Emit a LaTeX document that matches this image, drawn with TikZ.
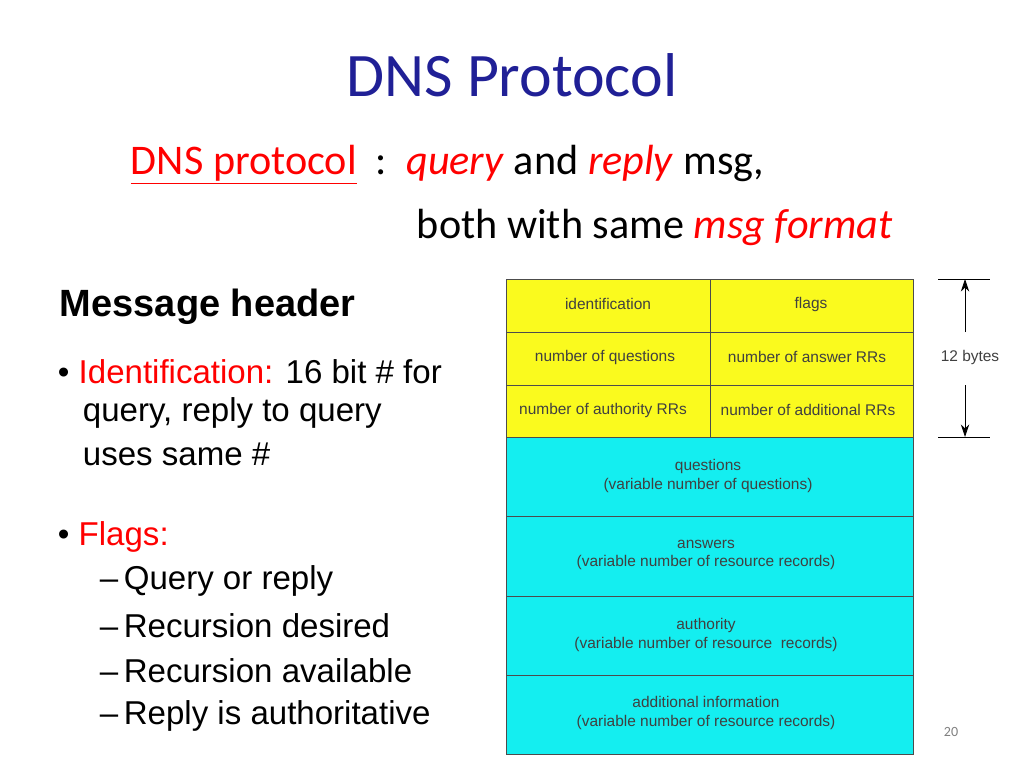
\documentclass[tikz,border=0pt]{standalone}
\usepackage{fontspec}
\setmainfont{Carlito}
\newfontfamily\arialfont{Liberation Sans}
\usetikzlibrary{arrows.meta}
\definecolor{titleblue}{RGB}{32,32,150}
\definecolor{hdryellow}{RGB}{250,250,30}
\definecolor{bodycyan}{RGB}{20,238,240}
\begin{document}
\begin{tikzpicture}[x=0.025cm,y=-0.025cm]
\tikzset{cell/.style = {draw=black!70,line width=0.6pt}}
\tikzset{celltext/.style = {font=\arialfont\fontsize{11}{13}\selectfont,color=black!75,align=center}}
\tikzset{bullet/.style = {anchor=west,font=\arialfont\fontsize{23.5}{29}\selectfont}}
\tikzset{dim/.style = {-{Stealth[length=9pt,width=6pt]},line width=0.6pt}}
\useasboundingbox (0,0) rectangle (1024,768);
% titles
\node (title) at (512,75) {\fontsize{44}{48}\selectfont\color{titleblue}DNS Protocol};
\node[anchor=west] (sub1) at (126,165) {\fontsize{30}{34}\selectfont\color{red}\underline{DNS protocol}\color{black}\ \ :\ \ \color{red}\textit{query} \color{black}and \color{red}\textit{reply} \color{black}msg,};
\node[anchor=west] (sub2) at (412,227) {\fontsize{30}{34}\selectfont both with same \color{red}\textit{msg format}};
% left text
\node[anchor=west] (head) at (55,307) {\arialfont\bfseries\fontsize{27}{30}\selectfont Message header};
\node[bullet] (ident) at (53,372) {\textbullet\ \color{red}Identification: \color{black}16 bit \# for};
\node[bullet] (ident2) at (78,413) {query, reply to query};
\node[bullet] (ident3) at (78,454) {uses same \#};
\node[bullet] (flags) at (53,537) {\textbullet\ \color{red}Flags:};
\foreach \t/\y in {Query or reply/581,Recursion desired/626,Recursion available/671,Reply is authoritative/716}
  \node[bullet] at (95,\y) {\textendash\,\t};
% header rows
\fill[hdryellow] (506,279) rectangle (913,437);
\fill[bodycyan] (506,437) rectangle (913,754);
\foreach \ya/\yb in {279/332,332/385,385/437}{
  \draw[cell] (506,\ya) rectangle (710,\yb);
  \draw[cell] (710,\ya) rectangle (913,\yb);
}
\foreach \ya/\yb in {437/516,516/596,596/675,675/754}
  \draw[cell] (506,\ya) rectangle (913,\yb);
\node[celltext] (id) at (608,304) {identification};
\node[celltext] (fl) at (811,304) {flags};
\node[celltext] (nq) at (605,357) {number of questions};
\node[celltext] (na) at (807,357) {number of answer RRs};
\node[celltext] (nau) at (603,410) {number of authority RRs};
\node[celltext] (nad) at (808,410) {number of additional RRs};
\node[celltext] (qs) at (708,476) {questions\\(variable number of questions)};
\node[celltext] (an) at (706,555) {answers\\(variable number of resource records)};
\node[celltext] (au) at (706,635) {authority\\(variable number of resource \ records)};
\node[celltext] (ad) at (706,713) {additional information\\(variable number of resource records)};
% size marker
\draw[line width=0.6pt] (938,279) -- (990,279);
\draw[line width=0.6pt] (938,437) -- (990,437);
\node[celltext] (bytes) at (970,357) {12 bytes};
\coordinate (top) at (965,279);
\coordinate (bot) at (965,437);
\draw[dim] (965,332) -- (top);
\draw[dim] (965,385) -- (bot);
\node (page) at (951,732) {\fontsize{10}{12}\selectfont\color{black!50}20};
\end{tikzpicture}
\end{document}
